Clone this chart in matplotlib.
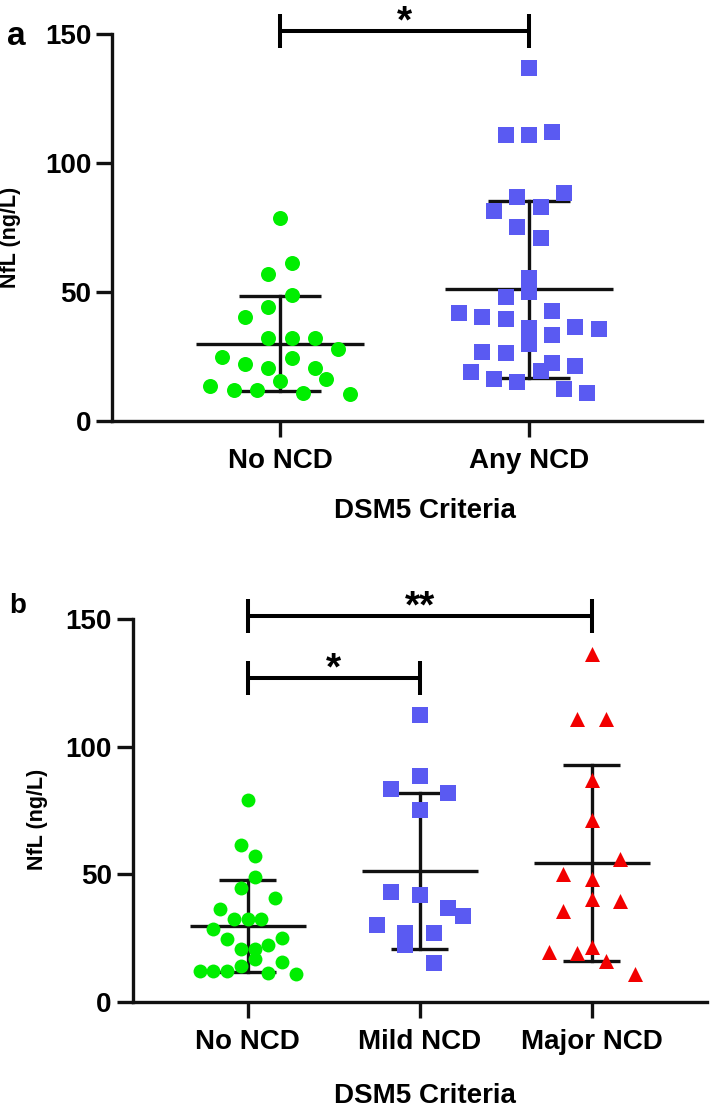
import numpy as np
import matplotlib
matplotlib.use("Agg")
import matplotlib.pyplot as plt

plt.rcParams['font.family'] = ['Liberation Sans', 'DejaVu Sans']
plt.rcParams['font.weight'] = 'bold'

# panel a values (ng/L), in entry order
no_ncd_a = [13.7, 12.1, 12.1, 15.5, 10.7, 16.3, 10.3,
            24.9, 22.0, 20.4, 24.3, 20.4, 28.0,
            40.3, 32.3, 32.3, 32.3,
            44.3, 48.7, 57.1, 61.2, 78.8]
any_ncd_a = [18.9, 16.2, 15.0, 19.4, 12.3, 11.0,
             26.6, 26.2, 30.0, 22.4, 21.3,
             41.9, 40.2, 39.4, 35.9, 33.3, 36.6, 35.5,
             47.9, 50.0, 42.6, 55.5,
             75.1, 71.0, 81.5, 86.9, 83.1, 88.2,
             110.9, 110.9, 112.1, 136.7]
labels_a = ['No NCD', 'Any NCD']

# panel b values (ng/L), in entry order
no_ncd_b = [12.2, 12.2, 12.2, 14.0, 16.6, 11.1, 15.7, 10.7,
            28.4, 24.4, 20.5, 20.5, 22.2, 25.1,
            36.3, 32.4, 32.4, 32.4, 40.8,
            44.7, 49.0, 61.4, 57.1, 79.0]
mild_ncd = [22.2, 15.3, 30.1, 27.1, 26.8, 33.6, 42.9, 41.8, 36.8,
            83.2, 75.1, 81.7, 88.4, 112.3]
major_ncd = [19.6, 19.0, 16.1, 10.9, 21.4, 35.7, 40.2, 39.6,
             50.0, 48.1, 56.0, 71.1, 86.9, 110.8, 110.8, 136.4]
labels_b = ['No NCD', 'Mild NCD', 'Major NCD']

GREEN = '#00ee00'
BLUE = '#5a5af2'
RED = '#f20000'
INK = '#111111'


def column_slots(vals, win=9.0):
    # group values into bands of height `win` from the bottom up and
    # spread each band symmetrically, in entry order
    vals = np.asarray(vals, float)
    order = np.argsort(vals, kind='stable')
    slots = np.zeros(len(vals))
    i = 0
    while i < len(order):
        start = vals[order[i]]
        j = i
        while j < len(order) and vals[order[j]] < start + win:
            j += 1
        members = sorted(order[i:j])
        n = len(members)
        for k, m in enumerate(members):
            slots[m] = 2 * k - (n - 1)
        i = j
    return slots


def style_axes(ax, labels, xlim):
    ax.set_xlim(*xlim)
    ax.set_ylim(0, 150)
    ax.set_yticks([0, 50, 100, 150])
    ax.set_xticks(range(len(labels)))
    ax.set_xticklabels(labels)
    for s in ['top', 'right']:
        ax.spines[s].set_visible(False)
    for s in ['left', 'bottom']:
        ax.spines[s].set_linewidth(2.4)
        ax.spines[s].set_color(INK)
    ax.tick_params(axis='y', length=11.5, width=2.4, color=INK, pad=3.5,
                   labelsize=20)
    ax.tick_params(axis='x', length=11.5, width=2.4, color=INK, pad=8,
                   labelsize=20)
    for t in ax.get_xticklabels() + ax.get_yticklabels():
        t.set_fontweight('bold')


def draw_group(ax, pos, vals, color, marker, size):
    vals = np.asarray(vals, float)
    m = vals.mean()
    sd = vals.std(ddof=1)
    ax.plot([pos - 0.336, pos + 0.336], [m, m], color=INK, lw=2.4, zorder=2,
            solid_capstyle='butt')
    ax.plot([pos, pos], [m - sd, m + sd], color=INK, lw=2.4, zorder=2)
    for yv in (m - sd, m + sd):
        ax.plot([pos - 0.166, pos + 0.166], [yv, yv], color=INK, lw=2.4,
                zorder=2, solid_capstyle='butt')
    slots = column_slots(vals)
    x0, x1 = ax.get_xlim()
    col_px = ax.bbox.width / (x1 - x0)
    nmax = max(abs(slots).max(), 1)
    unit_px = min(14.3, 0.28 * col_px / nmax)
    ax.scatter(pos + slots * unit_px / col_px, vals, s=size ** 2, c=color,
               marker=marker, linewidths=0, zorder=3, clip_on=False)


def bracket(ax, xa, xb, y, stars):
    ax.plot([xa, xb], [y, y], color='black', lw=2.9, clip_on=False,
            solid_capstyle='butt')
    for xv in (xa, xb):
        ax.plot([xv, xv], [y - 6.6, y + 6.6], color='black', lw=2.9,
                clip_on=False, solid_capstyle='butt')
    ax.text((xa + xb) / 2, y - 0.5, stars, ha='center', va='baseline',
            fontsize=28, fontweight='bold', clip_on=False)


fig = plt.figure(figsize=(7.1, 11.08), dpi=100)

# panel a
ax1 = fig.add_axes([0.1577, 0.6200, 0.8310, 0.3493])
style_axes(ax1, labels_a, (-0.675, 1.695))
draw_group(ax1, 0, no_ncd_a, GREEN, 'o', 10.8)
draw_group(ax1, 1, any_ncd_a, BLUE, 's', 11.5)
bracket(ax1, 0, 1, 151.2, '*')
ax1.set_ylabel('NfL (ng/L)', fontsize=15.5, fontweight='bold')
ax1.yaxis.set_label_coords(-0.155, 0.4755)
ax1.set_xlabel('DSM5 Criteria', fontsize=20, fontweight='bold')
ax1.xaxis.set_label_coords(0.5305, -0.199)

# panel b
ax2 = fig.add_axes([0.1868, 0.0959, 0.8090, 0.3454])
style_axes(ax2, labels_b, (-0.669, 2.67))
draw_group(ax2, 0, no_ncd_b, GREEN, 'o', 10.0)
draw_group(ax2, 1, mild_ncd, BLUE, 's', 11.0)
draw_group(ax2, 2, major_ncd, RED, '^', 10.8)
bracket(ax2, 0, 2, 151.2, '**')
bracket(ax2, 0, 1, 126.8, '*')
ax2.set_ylabel('NfL (ng/L)', fontsize=15.5, fontweight='bold')
ax2.yaxis.set_label_coords(-0.147, 0.476)
ax2.set_xlabel('DSM5 Criteria', fontsize=20, fontweight='bold')
ax2.xaxis.set_label_coords(0.509, -0.2125)

fig.text(7 / 710, 1 - 45 / 1108, 'a', fontsize=24, fontweight='bold',
         ha='left', va='baseline')
fig.text(9 / 710, 1 - 613 / 1108, 'b', fontsize=20, fontweight='bold',
         ha='left', va='baseline')

fig.savefig('out.png', dpi=100)
